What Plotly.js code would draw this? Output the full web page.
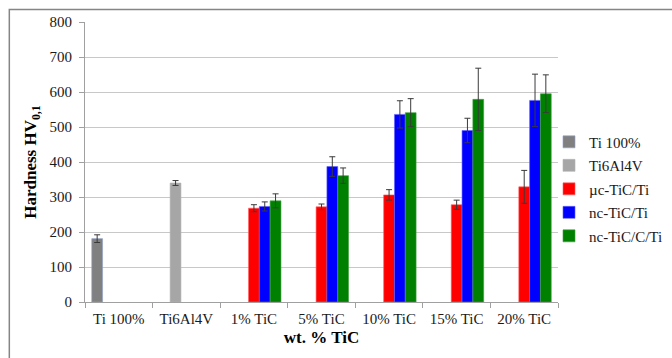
<!DOCTYPE html>
<html>
<head>
<meta charset="utf-8">
<script src="https://cdn.plot.ly/plotly-3.0.1.min.js"></script>
<style>html,body{margin:0;padding:0;background:#fff;}#chart{width:672px;height:358px;}</style>
</head>
<body>
<div id="chart"></div>
<script>
var categories = ["Ti 100%", "Ti6Al4V", "1% TiC", "5% TiC", "10% TiC", "15% TiC", "20% TiC"];
var seriesNames = ["Ti 100%", "Ti6Al4V", "\u00b5c-TiC/Ti", "nc-TiC/Ti", "nc-TiC/C/Ti"];
var ti100 = [181, null, null, null, null, null, null];
var ti100Err = [11, null, null, null, null, null, null];
var ti6al4v = [null, 340, null, null, null, null, null];
var ti6al4vErr = [null, 7, null, null, null, null, null];
var mcTiC = [null, null, 268, 272, 306, 278, 329];
var mcTiCErr = [null, null, 10, 8, 15, 13, 47];
var ncTiC = [null, null, 273, 387, 536, 490, 576];
var ncTiCErr = [null, null, 13, 28, 39, 35, 75];
var ncTiCC = [null, null, 289, 361, 541, 579, 595];
var ncTiCCErr = [null, null, 20, 22, 40, 89, 54];
var yTicks = [0, 100, 200, 300, 400, 500, 600, 700, 800];

var colors = ["#808080", "#a6a6a6", "#ff0000", "#0000ff", "#008000"];
var lineColors = ["#8ea0c8", "#b4b4b4", "#ff6060", "#6060ff", "#40a040"];
var values = [ti100, ti6al4v, mcTiC, ncTiC, ncTiCC];
var errs = [ti100Err, ti6al4vErr, mcTiCErr, ncTiCErr, ncTiCCErr];

var traces = values.map(function (v, i) {
  return {
    type: "bar",
    name: seriesNames[i],
    x: categories,
    y: v,
    legendgroup: "g" + i,
    marker: {color: colors[i], line: {color: lineColors[i], width: 0.6}},
    error_y: {type: "data", array: errs[i], visible: true, color: "#3a3a3a", thickness: 1, width: 3}
  };
});

var font = "'Liberation Serif', 'Times New Roman', serif";
var layout = {
  width: 672, height: 358,
  margin: {l: 85, r: 114, t: 22, b: 56, autoexpand: false},
  paper_bgcolor: "#ffffff", plot_bgcolor: "#ffffff",
  barmode: "group", bargap: 0.2, bargroupgap: 0,
  font: {family: font, size: 15, color: "#1a1a1a"},
  showlegend: true,
  legend: {x: 0.981, y: 0.63, xanchor: "left", yanchor: "top", traceorder: "grouped", tracegroupgap: 1,
           bgcolor: "rgba(0,0,0,0)",
           font: {family: font, size: 15, color: "#1a1a1a"}, itemwidth: 30},
  xaxis: {
    type: "category", tickson: "boundaries", ticks: "outside", ticklen: 5, tickcolor: "#a0a0a0",
    showline: true, linecolor: "#a0a0a0", linewidth: 1, showgrid: false, ticklabelstandoff: 3,
    tickfont: {family: font, size: 15, color: "#1a1a1a"},
    title: {text: "<b>wt. % TiC</b>", font: {family: font, size: 17, color: "#000"}, standoff: 5}
  },
  yaxis: {
    range: [0, 800], tickvals: yTicks, ticks: "outside", ticklen: 5, tickcolor: "#a0a0a0",
    showline: true, linecolor: "#a0a0a0", linewidth: 1, gridcolor: "#c8c8c8", gridwidth: 1,
    zeroline: false, ticklabelstandoff: 4,
    tickfont: {family: font, size: 15, color: "#1a1a1a"},
    title: {text: "<b>Hardness HV<sub>0,1</sub></b>", font: {family: font, size: 17, color: "#000"}, standoff: 8}
  },
  shapes: [{type: "rect", xref: "paper", yref: "paper", x0: -0.16, x1: 1.5, y0: -0.5, y1: 1.0446,
            line: {color: "#858585", width: 1.5}, fillcolor: "rgba(0,0,0,0)", layer: "above"}]
};

Plotly.newPlot("chart", traces, layout, {displayModeBar: false, staticPlot: true});
</script>
</body>
</html>
